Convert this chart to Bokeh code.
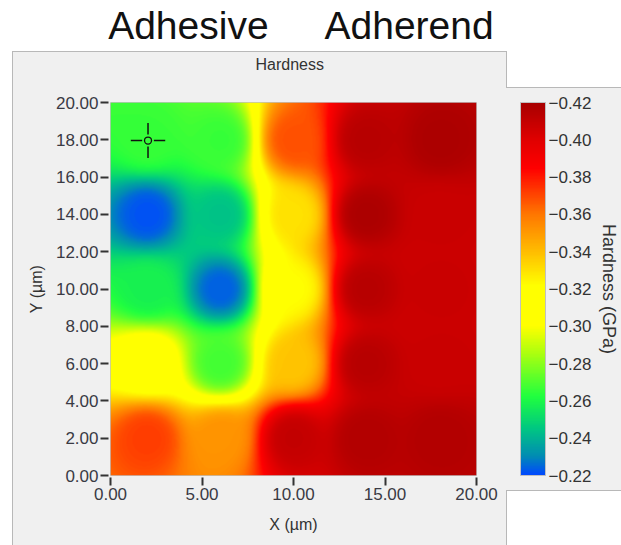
import numpy as np
from bokeh.embed import file_html
from bokeh.resources import INLINE
from bokeh.plotting import figure
from bokeh.models import (LinearColorMapper, ColorBar, FixedTicker, LinearAxis,
                          Range1d, NumeralTickFormatter)

W, H = 621, 545

# hardness read at each indent (5 x 5 map), GPa, as labelled on the colour bar
grid_x = [2, 6, 10, 14, 18]
grid_y = [2, 6, 10, 14, 18]
row_y2 = [-0.372, -0.352, -0.410, -0.416, -0.416]
row_y6 = [-0.312, -0.268, -0.338, -0.414, -0.408]
row_y10 = [-0.258, -0.224, -0.322, -0.414, -0.408]
row_y14 = [-0.222, -0.244, -0.330, -0.418, -0.408]
row_y18 = [-0.266, -0.266, -0.368, -0.414, -0.418]

x_ticks = [0, 5, 10, 15, 20]
y_ticks = [0, 2, 4, 6, 8, 10, 12, 14, 16, 18, 20]
bar_ticks = [-0.42, -0.40, -0.38, -0.36, -0.34, -0.32, -0.30, -0.28, -0.26, -0.24, -0.22]

cursor_x = [2.05]
cursor_y = [17.96]

# colour scale stops, blue (-0.22) to dark red (-0.42)
stop_val = [-0.22, -0.23, -0.245, -0.262, -0.285, -0.30, -0.322, -0.34, -0.36, -0.385, -0.40, -0.42]
stop_r = [0, 0, 0, 32, 170, 255, 255, 255, 255, 255, 225, 168]
stop_g = [72, 140, 200, 255, 255, 255, 255, 190, 120, 0, 0, 0]
stop_b = [255, 180, 130, 64, 16, 0, 0, 0, 0, 0, 0, 0]

z_cells = np.array([row_y2, row_y6, row_y10, row_y14, row_y18])


def smooth_map(cells, xs, ys, fx, fy, power):
    """Display resampling of the indent values, as the instrument software shows them:
    inverse-distance weights, passing through every indent value."""
    gx, gy = np.meshgrid(xs, ys)
    XX, YY = np.meshgrid(fx, fy)
    d2 = (XX[..., None] - gx.ravel()) ** 2 + (YY[..., None] - gy.ravel()) ** 2
    w = 1.0 / (d2 + 1e-6) ** (power / 2)
    return (w * cells.ravel()).sum(-1) / w.sum(-1)


fx = np.linspace(0, 20, 367)
fy = np.linspace(0, 20, 373)
field = smooth_map(z_cells, grid_x, grid_y, fx, fy, 3.5)

t = np.linspace(0, 1, 256)
vals = -0.22 - 0.20 * t
palette = ["#%02x%02x%02x" % (int(r), int(g), int(b)) for r, g, b in zip(
    np.interp(-vals, [-v for v in stop_val], stop_r),
    np.interp(-vals, [-v for v in stop_val], stop_g),
    np.interp(-vals, [-v for v in stop_val], stop_b))]
mapper = LinearColorMapper(palette=palette, low=-0.22, high=-0.42)

frame_l, frame_r, frame_t, frame_b = 110.5, 477, 102, 475
p = figure(width=W, height=H, output_backend="svg", toolbar_location=None,
           x_range=Range1d(0, 20), y_range=Range1d(0, 20),
           min_border_left=round(frame_l), min_border_right=round(W - frame_r),
           min_border_top=round(frame_t), min_border_bottom=round(H - frame_b),
           x_axis_label="X (µm)", y_axis_label="Y (µm)")
p.background_fill_color = "#f0f0f0"
p.border_fill_color = None
p.outline_line_color = "#c0c0c0"
p.outline_line_width = 1
p.grid.visible = False
p.title.visible = False


def rect(x, y, w, h, c):
    return f"linear-gradient({c},{c}) {x}px {y}px / {w}px {h}px no-repeat"


edge, fill = "#b8b8b8", "#f0f0f0"
p.styles = {"background": ", ".join([
    rect(12, 51, 494, 1, edge), rect(12, 51, 1, 494, edge),
    rect(506, 51, 1, 36, edge), rect(506, 87, 115, 1, edge),
    rect(506, 490, 115, 1, edge), rect(506, 490, 1, 55, edge),
    rect(12, 51, 494, 494, fill), rect(506, 87, 115, 403, fill),
    "white",
])}

p.image(image=[field], x=0, y=0, dw=20, dh=20, color_mapper=mapper)

# sample cursor
p.scatter(cursor_x, cursor_y, marker="circle", size=7, fill_color=None, line_color="#111111", line_width=1.3)
for sx, sy in [(1, 0), (-1, 0), (0, 1), (0, -1)]:
    p.segment(x0=[c + sx * 0.32 for c in cursor_x], y0=[c + sy * 0.32 for c in cursor_y],
              x1=[c + sx * 0.94 for c in cursor_x], y1=[c + sy * 0.94 for c in cursor_y],
              line_color="#111111", line_width=1.5)

for ax, ticks in ((p.xaxis, x_ticks), (p.yaxis, y_ticks)):
    ax.ticker = FixedTicker(ticks=ticks)
    ax.formatter = NumeralTickFormatter(format="0.00")
    ax.axis_line_color = None
    ax.minor_tick_line_color = None
    ax.major_tick_line_color = "#333333"
    ax.major_tick_line_width = 2
    ax.major_tick_in = -2
    ax.major_tick_out = 10
    ax.major_label_text_font = "Liberation Sans"
    ax.major_label_text_font_size = "17px"
    ax.major_label_text_color = "#3a3a44"
    ax.major_label_standoff = 2
    ax.axis_label_text_font = "Liberation Sans"
    ax.axis_label_text_font_size = "16px"
    ax.axis_label_text_font_style = "normal"
    ax.axis_label_text_color = "#333333"
p.xaxis.axis_label_standoff = 13
p.yaxis.axis_label_standoff = 8

bar = ColorBar(color_mapper=mapper, width=25, height=373, padding=0, margin=0,
               location=(44, 0),
               ticker=FixedTicker(ticks=bar_ticks),
               major_label_overrides={v: "\u2212%.2f" % abs(v) for v in bar_ticks},
               major_label_text_font="Liberation Sans", major_label_text_font_size="17px",
               major_label_text_color="#333333", label_standoff=3,
               major_tick_line_color=None, minor_tick_line_color=None,
               bar_line_color="#c0c0c0", border_line_color=None, background_fill_color=None)
p.add_layout(bar, "right")

# Texts outside the frame: annotations in the centre are clipped to it, side axes are not.
p.extra_x_ranges["page"] = Range1d(frame_l, frame_r)


def text_axis(labels, size, color, standoff):
    ax = LinearAxis(x_range_name="page", ticker=FixedTicker(ticks=list(labels)),
                    major_label_overrides=labels, axis_line_color=None,
                    major_tick_line_color=None, minor_tick_line_color=None,
                    major_tick_in=0, major_tick_out=0, major_label_standoff=standoff,
                    major_label_text_font="Liberation Sans", major_label_text_font_size=size,
                    major_label_text_color=color)
    p.add_layout(ax, "above")


text_axis({290: "Hardness"}, "16px", "#333333", 30)
text_axis({188.5: "Adhesive", 409.5: "Adherend"}, "39px", "#111111", 6)

bar_title = LinearAxis(axis_label="Hardness (GPa)", axis_line_color=None, ticker=FixedTicker(ticks=[]),
                       major_tick_line_color=None, minor_tick_line_color=None,
                       major_label_text_font_size="0px", axis_label_standoff=4,
                       axis_label_text_font="Liberation Sans", axis_label_text_font_size="18px",
                       axis_label_text_font_style="normal", axis_label_text_color="#333333")
p.add_layout(bar_title, "right")

open("out.html", "w").write(file_html(p, INLINE))
